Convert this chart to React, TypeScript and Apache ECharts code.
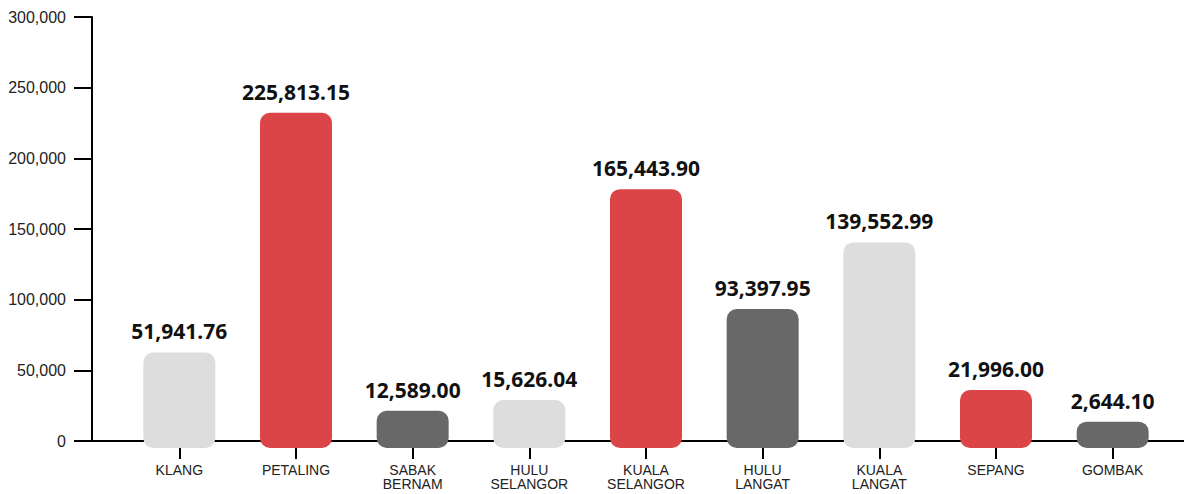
import React, { useEffect, useRef } from "react";
import * as echarts from "echarts";

const categories = [
  "KLANG",
  "PETALING",
  "SABAK\nBERNAM",
  "HULU\nSELANGOR",
  "KUALA\nSELANGOR",
  "HULU\nLANGAT",
  "KUALA\nLANGAT",
  "SEPANG",
  "GOMBAK",
];
// values printed above the bars
const labelValues = [51941.76, 225813.15, 12589.0, 15626.04, 165443.9, 93397.95, 139552.99, 21996.0, 2644.1];
// bar heights as drawn in the picture
const barHeights = [62700, 232200, 21400, 29000, 178200, 93400, 140500, 36100, 13700];
const yTicks = { min: 0, max: 300000, interval: 50000 };

const palette = ["#dddddd", "#dc4547", "#676867"];

const fmt = (v: number) =>
  v.toLocaleString("en-US", { minimumFractionDigits: 2, maximumFractionDigits: 2 });

export default function App() {
  const ref = useRef<HTMLDivElement>(null);
  useEffect(() => {
    if (!ref.current) return;
    const chart = echarts.init(ref.current, null, { renderer: "svg" });
    chart.setOption({
      animation: false,
      grid: [
        { left: 92, right: 0, top: 17, bottom: 53 },
        { left: 121, right: 13, top: 17, bottom: 53 },
      ],
      xAxis: [
        {
          type: "value",
          gridIndex: 0,
          min: 0,
          max: 1,
          axisLine: { show: true, onZero: true, lineStyle: { color: "#000", width: 2 } },
          axisTick: { show: false },
          axisLabel: { show: false },
          splitLine: { show: false },
        },
        {
          type: "category",
          gridIndex: 1,
          data: categories,
          axisLine: { show: false },
          axisTick: { show: true, alignWithLabel: true, length: 18, lineStyle: { color: "#000", width: 2 } },
          axisLabel: {
            margin: 22,
            fontSize: 14,
            lineHeight: 14,
            fontFamily: "Liberation Sans",
            color: "#222",
            interval: 0,
          },
          splitLine: { show: false },
        },
      ],
      yAxis: [
        {
          type: "value",
          gridIndex: 0,
          min: yTicks.min,
          max: yTicks.max,
          interval: yTicks.interval,
          axisLine: { show: true, lineStyle: { color: "#000", width: 2 } },
          axisTick: { show: true, length: 18, lineStyle: { color: "#000", width: 2 } },
          axisLabel: {
            margin: 26,
            fontSize: 16,
            fontFamily: "Liberation Sans",
            color: "#222",
            formatter: (v: number) => v.toLocaleString("en-US"),
          },
          splitLine: { show: false },
        },
        {
          type: "value",
          gridIndex: 1,
          min: yTicks.min,
          max: yTicks.max,
          interval: yTicks.interval,
          show: false,
          splitLine: { show: false },
        },
      ],
      series: [
        {
          type: "custom",
          xAxisIndex: 1,
          yAxisIndex: 1,
          clip: false,
          encode: { x: 0, y: 1 },
          data: barHeights.map((v, i) => [i, v]),
          renderItem: (params: any, api: any) => {
            const i = api.value(0);
            const v = api.value(1);
            const top = api.coord([i, v]);
            const base = api.coord([i, 0]);
            const w = 72;
            return {
              type: "group",
              children: [
                {
                  type: "rect",
                  shape: { x: top[0] - w / 2, y: top[1], width: w, height: base[1] - top[1] + 7, r: 10 },
                  style: { fill: palette[i % 3] },
                },
                {
                  type: "text",
                  style: {
                    text: fmt(labelValues[i]),
                    x: top[0],
                    y: top[1] - 21,
                    align: "center",
                    verticalAlign: "middle",
                    font: 'bold 21px "Noto Sans"',
                    fill: "#111",
                  },
                },
              ],
            };
          },
        },
      ],
    });
    return () => chart.dispose();
  }, []);
  return (
    <div
      ref={ref}
      style={{ position: "fixed", left: 0, top: 0, width: 1184, height: 494, background: "#fff" }}
    />
  );
}
